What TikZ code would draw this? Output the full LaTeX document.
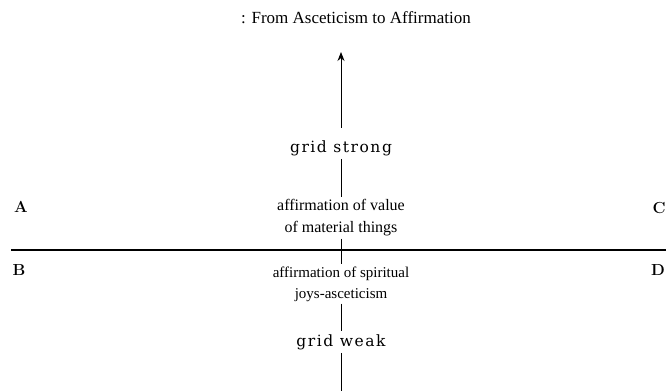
\documentclass[tikz,border=0pt]{standalone}
\usepackage{fontspec}
\newfontfamily\titlefont{Liberation Serif}
\newfontfamily\gridfont[LetterSpace=10]{DejaVu Serif}
\usetikzlibrary{arrows.meta}
\begin{document}
\begin{tikzpicture}[x=1pt,y=1pt,
  lbl/.style={font=\titlefont\fontsize{15}{21}\selectfont, align=center, inner sep=2pt},
  biglbl/.style={font=\titlefont\fontsize{16}{22}\selectfont, align=center, inner sep=2pt},
  gridlbl/.style={font=\gridfont\fontsize{15.5}{18}\selectfont, inner sep=3pt},
  corner/.style={font=\fontsize{16}{19}\selectfont\bfseries, inner sep=0pt},
  axis/.style={line width=0.9pt},
  thin axis/.style={line width=0.4pt}]
\useasboundingbox (0,0) rectangle (666,391);
\node[font=\titlefont\fontsize{17}{20}\selectfont] (title) at (356,373) {: From Asceticism to Affirmation};
\coordinate (tip) at (341,339);
\coordinate (tail) at (341,263);
\draw[axis,-{Stealth[length=9pt,width=7pt]}] (tail) -- (tip);
\node[gridlbl] (gs) at (341,243) {grid strong};
\node[biglbl] (av) at (341,173) {affirmation of value\\of material things};
\draw[axis] (gs) -- (av);
\coordinate (hl) at (11,141);
\coordinate (hr) at (666,141);
\draw[line width=1.1pt] (hl) -- (hr);
\node[lbl] (as) at (341,107) {affirmation of spiritual\\joys-asceticism};
\draw[thin axis] (av) -- (as);
\node[gridlbl] (gw) at (341,49) {grid weak};
\draw[axis] (as) -- (gw);
\coordinate (bot) at (341,0);
\draw[axis] (gw) -- (bot);
\node[corner] (A) at (21,184) {A};
\node[corner] (B) at (19,121) {B};
\node[corner] (C) at (659,183) {C};
\node[corner] (D) at (658,121) {D};
\end{tikzpicture}
\end{document}
